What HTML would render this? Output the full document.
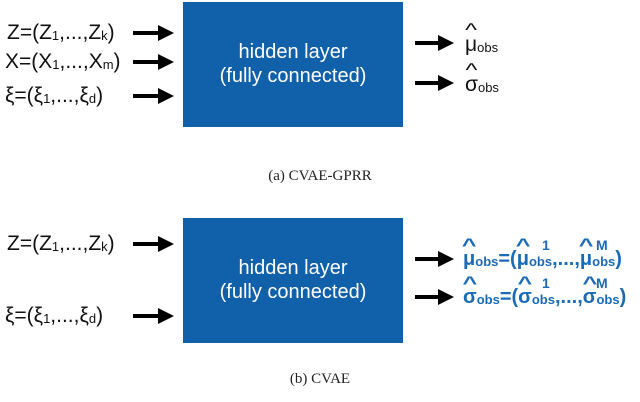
<!DOCTYPE html>
<html><head><style>
body{margin:0;width:640px;height:402px;background:#fff;position:relative;overflow:hidden;font-family:"Liberation Sans",sans-serif}
.t{position:absolute;white-space:nowrap;font-size:21px;color:#111;line-height:1}
.box{position:absolute;left:183px;width:220px;background:#1060aa;color:#fff;text-align:center;font-size:20px;line-height:24px}
.cap{position:absolute;width:640px;text-align:center;font-family:"Liberation Serif",serif;font-size:15px;color:#222}
sub{font-size:13px;vertical-align:-1px}
.b{color:#1a6bb8;font-weight:bold}
.h{position:relative;display:inline-block}
.h:before{content:"^";position:absolute;left:0;right:0;top:-13px;text-align:center;font-size:18px;transform:scaleX(1.4)}
</style></head><body>
<div class="box" style="top:2px;height:125px"><div style="padding-top:38px">hidden layer<br>(fully connected)</div></div>
<div class="box" style="top:218px;height:125px"><div style="padding-top:38px">hidden layer<br>(fully connected)</div></div>
<svg width="640" height="402" style="position:absolute;left:0;top:0">
<defs><marker id="a" markerWidth="4" markerHeight="4" refX="2" refY="2" orient="auto"><path d="M0,0L4,2L0,4z" fill="#000"/></marker></defs>
<g stroke="#000" stroke-width="4" marker-end="url(#a)">
<line x1="133" y1="33" x2="166" y2="33"/><line x1="133" y1="62" x2="166" y2="62"/><line x1="133" y1="96" x2="166" y2="96"/>
<line x1="415" y1="43" x2="446" y2="43"/><line x1="415" y1="83" x2="446" y2="83"/>
<line x1="133" y1="244" x2="166" y2="244"/><line x1="133" y1="316" x2="166" y2="316"/>
<line x1="415" y1="259" x2="446" y2="259"/><line x1="415" y1="297" x2="446" y2="297"/>
</g></svg>
<div class="t" style="left:7px;top:22px">Z=(Z<sub>1</sub>,...,Z<sub>k</sub>)</div>
<div class="t" style="left:5px;top:51px">X=(X<sub>1</sub>,...,X<sub>m</sub>)</div>
<div class="t" style="left:5px;top:85px">ξ=(ξ<sub>1</sub>,...,ξ<sub>d</sub>)</div>
<div class="t" style="left:465px;top:34px"><span class="h">μ</span><sub>obs</sub></div>
<div class="t" style="left:465px;top:74px"><span class="h">σ</span><sub>obs</sub></div>
<div class="cap" style="top:168px">(a) CVAE-GPRR</div>
<div class="t" style="left:7px;top:233px">Z=(Z<sub>1</sub>,...,Z<sub>k</sub>)</div>
<div class="t" style="left:5px;top:305px">ξ=(ξ<sub>1</sub>,...,ξ<sub>d</sub>)</div>
<div class="t b" style="left:463px;top:249px;font-size:20px"><span class="h">μ</span><sub>obs</sub>=(<span class="h">μ</span><sub>obs</sub>,...,<span class="h">μ</span><sub>obs</sub>)</div>
<div class="t b" style="left:463px;top:287px;font-size:20px"><span class="h">σ</span><sub>obs</sub>=(<span class="h">σ</span><sub>obs</sub>,...,<span class="h">σ</span><sub>obs</sub>)</div>
<div class="t b" style="left:542px;top:238px;font-size:14px">1</div>
<div class="t b" style="left:596px;top:238px;font-size:14px">M</div>
<div class="t b" style="left:542px;top:276px;font-size:14px">1</div>
<div class="t b" style="left:596px;top:276px;font-size:14px">M</div>
<div class="cap" style="top:371px">(b) CVAE</div>
</body></html>
